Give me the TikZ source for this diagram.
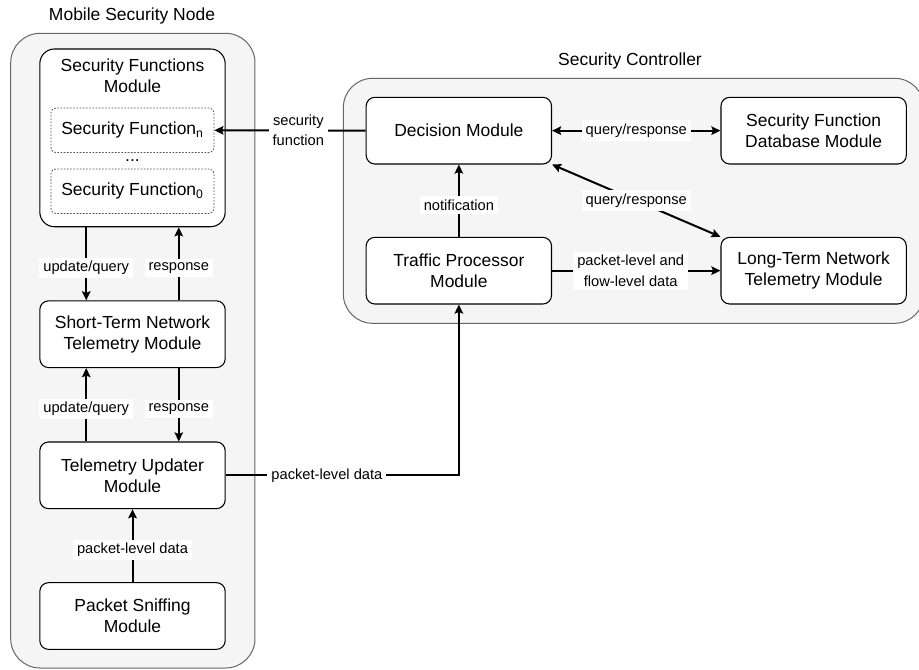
\documentclass[tikz,border=0pt]{standalone}
\usepackage{fontspec}
\setmainfont{Liberation Sans}
\usetikzlibrary{arrows.meta,calc}
\newcommand\mainfs{\fontsize{13.1pt}{15.75pt}\selectfont}
\newcommand\lblfs{\fontsize{11pt}{15.2pt}\selectfont}
\begin{document}
\begin{tikzpicture}[x=0.75pt,y=-0.75pt,
  outerbox/.style={draw=black!60,fill=black!4,line width=0.75pt,rounded corners=22pt,inner sep=0pt},
  modbox/.style={draw=black,fill=white,line width=0.8pt,rounded corners=6.5pt,inner sep=0pt,align=center,font=\mainfs,minimum width=139pt,minimum height=50pt},
  sfbox/.style={draw=black!70,line width=0.6pt,dash pattern=on 1.2pt off 1.2pt,rounded corners=3.5pt,inner sep=0pt,font=\mainfs,minimum width=122.25pt,minimum height=33.4pt},
  lbl/.style={fill=white,font=\lblfs,inner xsep=3pt,inner ysep=2.5pt,align=center},
  ttl/.style={font=\mainfs,inner sep=0pt},
  conn/.style={line width=1.5pt,-{Stealth[length=6.8pt,width=6.4pt,inset=1.2pt]}},
  connb/.style={line width=1.5pt,{Stealth[length=6.8pt,width=6.4pt,inset=1.2pt]}-{Stealth[length=6.8pt,width=6.4pt,inset=1.2pt]}},
  plain/.style={line width=1.5pt}
]
\useasboundingbox (0,0) rectangle (919,669);
\clip (0,0) rectangle (919,669);

% outer containers
\node[outerbox,minimum width=183.2pt,minimum height=476pt] (msn) at (132.85,350.65) {};
\node[ttl] (msntitle) at (132,16) {Mobile Security Node};
\node[outerbox,minimum width=435.5pt,minimum height=183.75pt] (sc) at (633.65,200.8) {};
\node[ttl] (sctitle) at (630,61) {Security Controller};

% mobile security node modules
\node[modbox,rounded corners=11pt,minimum height=133.3pt] (sfm) at (132.5,137.85) {};
\node[font=\mainfs,align=center,inner sep=0pt] (sfmtext) at (132.5,76) {Security Functions\\Module};
\node[sfbox] (sfn) at (132.5,130.3) {Security Function\textsubscript{n}};
\node[font=\mainfs,inner sep=0pt,anchor=base] (dots) at (132.5,161.5) {...};
\node[sfbox] (sf0) at (132.5,191.2) {Security Function\textsubscript{0}};
\node[modbox] (stnt) at (132.5,334.2) {Short-Term Network\\Telemetry Module};
\node[modbox] (tu) at (132.5,475.3) {Telemetry Updater\\Module};
\node[modbox] (ps) at (132.5,616) {Packet Sniffing\\Module};

% security controller modules
\node[modbox] (dec) at (458.85,130.65) {Decision Module};
\node[modbox] (sfdb) at (813.65,130.65) {Security Function\\Database Module};
\node[modbox] (tp) at (458.85,270.65) {Traffic Processor\\Module};
\node[modbox] (ltnt) at (813.65,270.65) {Long-Term Network\\Telemetry Module};

% connectors inside mobile security node
\draw[conn] ($(sfm.south)+(-46.25,0)$) -- node[lbl,pos=0.56] {update/query} ($(stnt.north)+(-46.25,0)$);
\draw[conn] ($(stnt.north)+(46.25,0)$) -- node[lbl,pos=0.44] {response} ($(sfm.south)+(46.25,0)$);
\draw[conn] ($(tu.north)+(-46.25,0)$) -- node[lbl,pos=0.44] {update/query} ($(stnt.south)+(-46.25,0)$);
\draw[conn] ($(stnt.south)+(46.25,0)$) -- node[lbl,pos=0.56] {response} ($(tu.north)+(46.25,0)$);
\draw[conn] (ps.north) -- node[lbl,pos=0.44] {packet-level data} (tu.south);

% connectors between and inside the security controller
\draw[conn] (dec.west) -- node[lbl,pos=0.445] {security\\function} (sfn.east);
\draw[conn] (tu.east) -- node[lbl,pos=0.434] {packet-level data} (tp.south |- tu.east) -- (tp.south);
\draw[conn] (tp.north) -- node[lbl,pos=0.44] {notification} (dec.south);
\draw[connb] (dec.east) -- node[lbl] {query/response} (sfdb.west);
\draw[connb] (dec.south east) -- node[lbl] {query/response} (ltnt.north west);
\draw[conn] (tp.east) -- node[lbl,pos=0.467] {packet-level and\\flow-level data} (ltnt.west);
\end{tikzpicture}
\end{document}
